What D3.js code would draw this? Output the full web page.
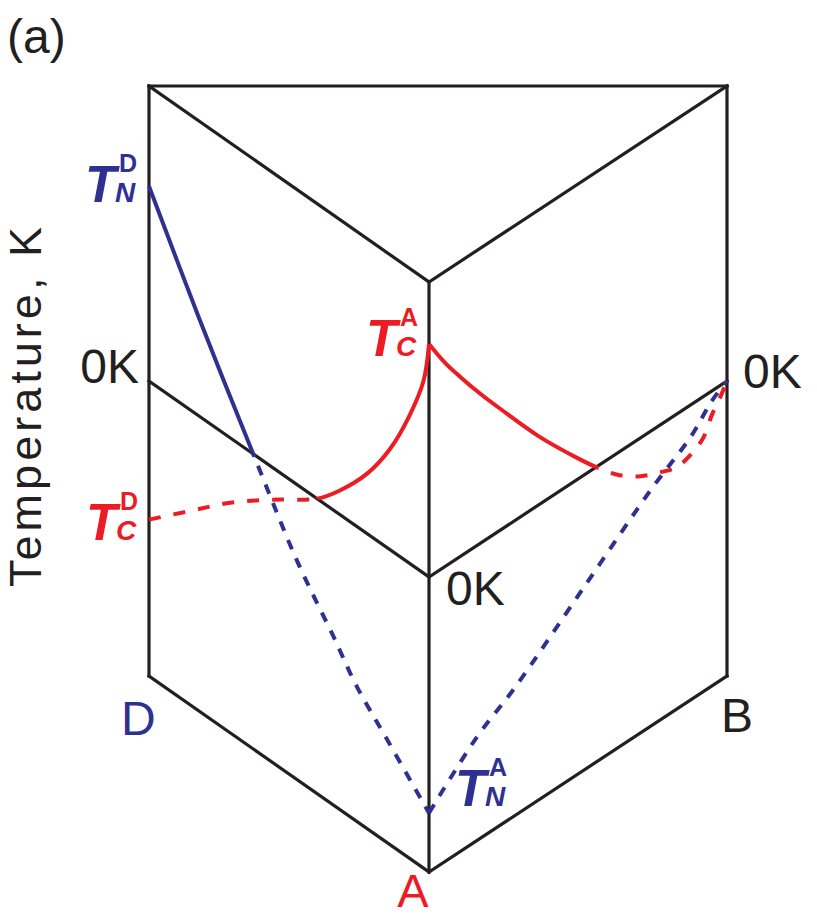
<!DOCTYPE html>
<html>
<head>
<meta charset="utf-8">
<title>prism phase diagram</title>
<script src="https://d3js.org/d3.v7.min.js"></script>
<style>
  body { margin: 0; background: #fff; }
  text { font-family: "Liberation Sans", Arial, sans-serif; }
</style>
</head>
<body>
<div id="chart"></div>
<script>
var width = 817,
    height = 916;

var black = "#231f20", red = "#ed1c24", blue = "#2e3192";

// levels of the prism: top, 0K plane, bottom (reduced temperature)
var levels = [1, 0, -1];

// T_N line (blue), face D-A: composition from D (0) to A (1), reduced temperature
var tnDA_x = [0, 0.18, 0.39, 0.53, 0.66, 0.74, 0.85, 1];
var tnDA_t = [0.66, 0.33, -0.03, -0.26, -0.43, -0.54, -0.65, -0.80];
// T_N line (blue), face A-B: from A (0) to B (1)
var tnAB_x = [0, 0.16, 0.29, 0.52, 0.75, 0.88, 0.95, 1];
var tnAB_t = [-0.80, -0.65, -0.565, -0.38, -0.195, -0.107, -0.033, 0];
// T_C line (red), face D-A
var tcDA_x = [0, 0.15, 0.29, 0.44, 0.60, 0.68, 0.78, 0.86, 0.93, 0.98, 1];
var tcDA_t = [-0.47, -0.34, -0.22, -0.11, 0.0, 0.08, 0.205, 0.34, 0.50, 0.65, 0.79];
// T_C line (red), face A-B
var tcAB_x = [0, 0.054, 0.104, 0.17, 0.24, 0.37, 0.50, 0.57, 0.64, 0.71, 0.775, 0.83, 0.876, 0.92, 0.95, 0.977, 1];
var tcAB_t = [0.79, 0.69, 0.61, 0.51, 0.41, 0.23, 0.07, -0.01, -0.08, -0.13, -0.16, -0.18, -0.17, -0.14, -0.08, -0.04, 0];

var svg = d3.select("#chart")
  .append("svg")
    .attr("width", width)
    .attr("height", height);

// projection of the two visible faces
var xDA = d3.scaleLinear().domain([0, 1]).range([149, 429]);
var yDA = d3.scaleLinear().domain([0, 1]).range([381, 577]);
var xAB = d3.scaleLinear().domain([0, 1]).range([429, 727]);
var yAB = d3.scaleLinear().domain([0, 1]).range([577, 381]);
var tOff = d3.scaleLinear().domain([0, 1]).range([0, -295]);

function pDA(c, t) { return [xDA(c), yDA(c) + tOff(t)]; }
function pAB(c, t) { return [xAB(c), yAB(c) + tOff(t)]; }

// clip regions above / below the 0K plane
var zeroLine = [[0, pDA(0, 0)[1]], pDA(0, 0), pDA(1, 0), pAB(1, 0), [width, pAB(1, 0)[1]]];
var defs = svg.append("defs");
defs.append("clipPath").attr("id", "above").append("polygon")
  .attr("points", [[0, 0]].concat(zeroLine).concat([[width, 0]]).join(" "));
defs.append("clipPath").attr("id", "below").append("polygon")
  .attr("points", [[0, height]].concat(zeroLine).concat([[width, height]]).join(" "));

// prism frame
var edges = [];
levels.forEach(function(t) {
  edges.push([pDA(0, t), pDA(1, t)]);
  edges.push([pAB(0, t), pAB(1, t)]);
});
edges.push([pDA(0, levels[0]), pAB(1, levels[0])]);
edges.push([pDA(0, levels[0]), pDA(0, levels[2])]);
edges.push([pDA(1, levels[0]), pDA(1, levels[2])]);
edges.push([pAB(1, levels[0]), pAB(1, levels[2])]);

svg.append("g").selectAll("line")
  .data(edges)
  .enter().append("line")
    .attr("x1", function(d) { return d[0][0]; })
    .attr("y1", function(d) { return d[0][1]; })
    .attr("x2", function(d) { return d[1][0]; })
    .attr("y2", function(d) { return d[1][1]; })
    .attr("stroke", black)
    .attr("stroke-width", 3.2)
    .attr("stroke-linecap", "square");

var line = d3.line().curve(d3.curveCatmullRom.alpha(0.5));

var curves = [
  { pts: d3.zip(tnDA_x, tnDA_t).map(function(d) { return pDA(d[0], d[1]); }), color: blue, dash: "10,10" },
  { pts: d3.zip(tnAB_x, tnAB_t).map(function(d) { return pAB(d[0], d[1]); }), color: blue, dash: "10,10" },
  { pts: d3.zip(tcDA_x, tcDA_t).map(function(d) { return pDA(d[0], d[1]); }), color: red, dash: "12,13" },
  { pts: d3.zip(tcAB_x, tcAB_t).map(function(d) { return pAB(d[0], d[1]); }), color: red, dash: "12,13" }
];

// solid above 0K, dashed below
curves.forEach(function(c) {
  svg.append("path")
    .attr("d", line(c.pts))
    .attr("fill", "none")
    .attr("stroke", c.color)
    .attr("stroke-width", 4)
    .attr("clip-path", "url(#above)");
  svg.append("path")
    .attr("d", line(c.pts))
    .attr("fill", "none")
    .attr("stroke", c.color)
    .attr("stroke-width", 4)
    .attr("stroke-dasharray", c.dash)
    .attr("clip-path", "url(#below)");
});

// plain labels
function label(x, y, s, color, anchor, size) {
  svg.append("text")
    .attr("x", x).attr("y", y)
    .attr("text-anchor", anchor || "start")
    .style("font-size", (size || 48) + "px")
    .attr("fill", color)
    .text(s);
}

// T with sub/superscript, one text element
function tLabel(x, y, sub, sup, color) {
  var t = svg.append("text").attr("x", x).attr("y", y)
    .attr("fill", color).style("font-weight", "bold");
  t.append("tspan").style("font-size", "51px").style("font-style", "italic").text("T");
  t.append("tspan").attr("x", x + 30).attr("y", y)
    .style("font-size", "28px").style("font-style", "italic").text(sub);
  t.append("tspan").attr("x", x + 34).attr("y", y - 30)
    .style("font-size", "25px").text(sup);
}

label(7, 53, "(a)", black);

svg.append("text")
  .attr("transform", "translate(41,407) rotate(-90)")
  .attr("text-anchor", "middle")
  .attr("textLength", 360)
  .attr("lengthAdjust", "spacing")
  .style("font-size", "45px")
  .attr("fill", black)
  .text("Temperature, K");

var d0 = pDA(0, 0), a0 = pDA(1, 0), b0 = pAB(1, 0);
label(d0[0] - 10, d0[1] + 2, "0K", black, "end");
label(a0[0] + 17, a0[1] + 28, "0K", black);
label(b0[0] + 16, b0[1] + 7, "0K", black);

var dBot = pDA(0, -1), aBot = pDA(1, -1), bBot = pAB(1, -1);
label(dBot[0] - 28, dBot[1] + 59, "D", blue);
label(bBot[0] - 6, bBot[1] + 56, "B", black);
label(aBot[0] - 16, aBot[1] + 35, "A", red, "middle", 47);

var tnD = pDA(tnDA_x[0], tnDA_t[0]);
tLabel(tnD[0] - 64, tnD[1] + 16, "N", "D", blue);
var tcD = pDA(tcDA_x[0], tcDA_t[0]);
tLabel(tcD[0] - 63, tcD[1] + 20, "C", "D", red);
var tcA = pAB(tcAB_x[0], tcAB_t[0]);
tLabel(tcA[0] - 63, tcA[1] + 12, "C", "A", red);
var tnA = pAB(tnAB_x[0], tnAB_t[0]);
tLabel(tnA[0] + 26, tnA[1] - 7, "N", "A", blue);
</script>
</body>
</html>
